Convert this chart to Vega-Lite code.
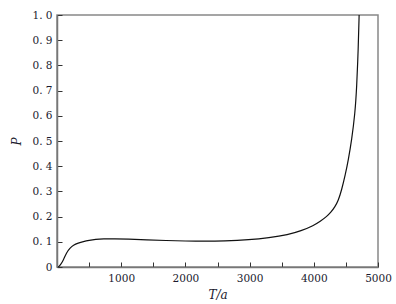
{
  "$schema": "https://vega.github.io/schema/vega-lite/v6.json",
  "width": 321,
  "height": 252,
  "autosize": "none",
  "padding": {"left": 57, "top": 15, "right": 18, "bottom": 37},
  "background": "white",
  "config": {
    "font": "DejaVu Serif",
    "view": {"stroke": "#888", "strokeWidth": 1.5},
    "axis": {
      "labelFont": "DejaVu Serif",
      "titleFont": "DejaVu Serif",
      "labelFontSize": 10.5,
      "titleFontSize": 12,
      "titleFontWeight": "normal",
      "labelColor": "#1a1a2e",
      "titleColor": "#1a1a2e",
      "domainColor": "#777",
      "domainWidth": 1.5,
      "tickColor": "#333",
      "grid": false
    }
  },
  "data": {
    "values": [
      {"T": 20, "P": 0},
      {"T": 60, "P": 0.01},
      {"T": 100, "P": 0.028},
      {"T": 150, "P": 0.058},
      {"T": 200, "P": 0.075},
      {"T": 255, "P": 0.087},
      {"T": 330, "P": 0.095},
      {"T": 410, "P": 0.101},
      {"T": 500, "P": 0.106},
      {"T": 600, "P": 0.110},
      {"T": 720, "P": 0.112},
      {"T": 900, "P": 0.112},
      {"T": 1100, "P": 0.111},
      {"T": 1400, "P": 0.108},
      {"T": 1700, "P": 0.105},
      {"T": 2000, "P": 0.103},
      {"T": 2300, "P": 0.102},
      {"T": 2600, "P": 0.103},
      {"T": 3000, "P": 0.108},
      {"T": 3300, "P": 0.116},
      {"T": 3600, "P": 0.128},
      {"T": 3800, "P": 0.143},
      {"T": 4000, "P": 0.165},
      {"T": 4100, "P": 0.181},
      {"T": 4200, "P": 0.200},
      {"T": 4270, "P": 0.218},
      {"T": 4330, "P": 0.239},
      {"T": 4380, "P": 0.262},
      {"T": 4434, "P": 0.306},
      {"T": 4490, "P": 0.365},
      {"T": 4538, "P": 0.425},
      {"T": 4590, "P": 0.504},
      {"T": 4642, "P": 0.61},
      {"T": 4668, "P": 0.71},
      {"T": 4693, "P": 0.87},
      {"T": 4706, "P": 1.0}
    ]
  },
  "mark": {"type": "line", "color": "#111", "strokeWidth": 1.2, "clip": true, "interpolate": "basis"},
  "encoding": {
    "x": {
      "field": "T",
      "type": "quantitative",
      "scale": {"domain": [0, 5000], "nice": false},
      "axis": {
        "title": "T/a",
        "titleFontStyle": "italic",
        "titlePadding": 6,
        "values": [0, 500, 1000, 1500, 2000, 2500, 3000, 3500, 4000, 4500, 5000],
        "labelExpr": "datum.value > 0 && datum.value % 1000 == 0 ? datum.label : ''",
        "format": "d",
        "tickSize": -5,
        "labelPadding": 11,
        "labelFlush": false
      }
    },
    "y": {
      "field": "P",
      "type": "quantitative",
      "scale": {"domain": [0, 1], "nice": false},
      "axis": {
        "title": "P",
        "titleFontStyle": "italic",
        "titlePadding": 8,
        "values": [0, 0.1, 0.2, 0.3, 0.4, 0.5, 0.6, 0.7, 0.8, 0.9, 1.0],
        "labelExpr": "datum.value == 0 ? '0' : replace(format(datum.value, '.1f'), '.', '. ')",
        "tickSize": -5,
        "labelPadding": 10,
        "labelFlush": false
      }
    }
  }
}
